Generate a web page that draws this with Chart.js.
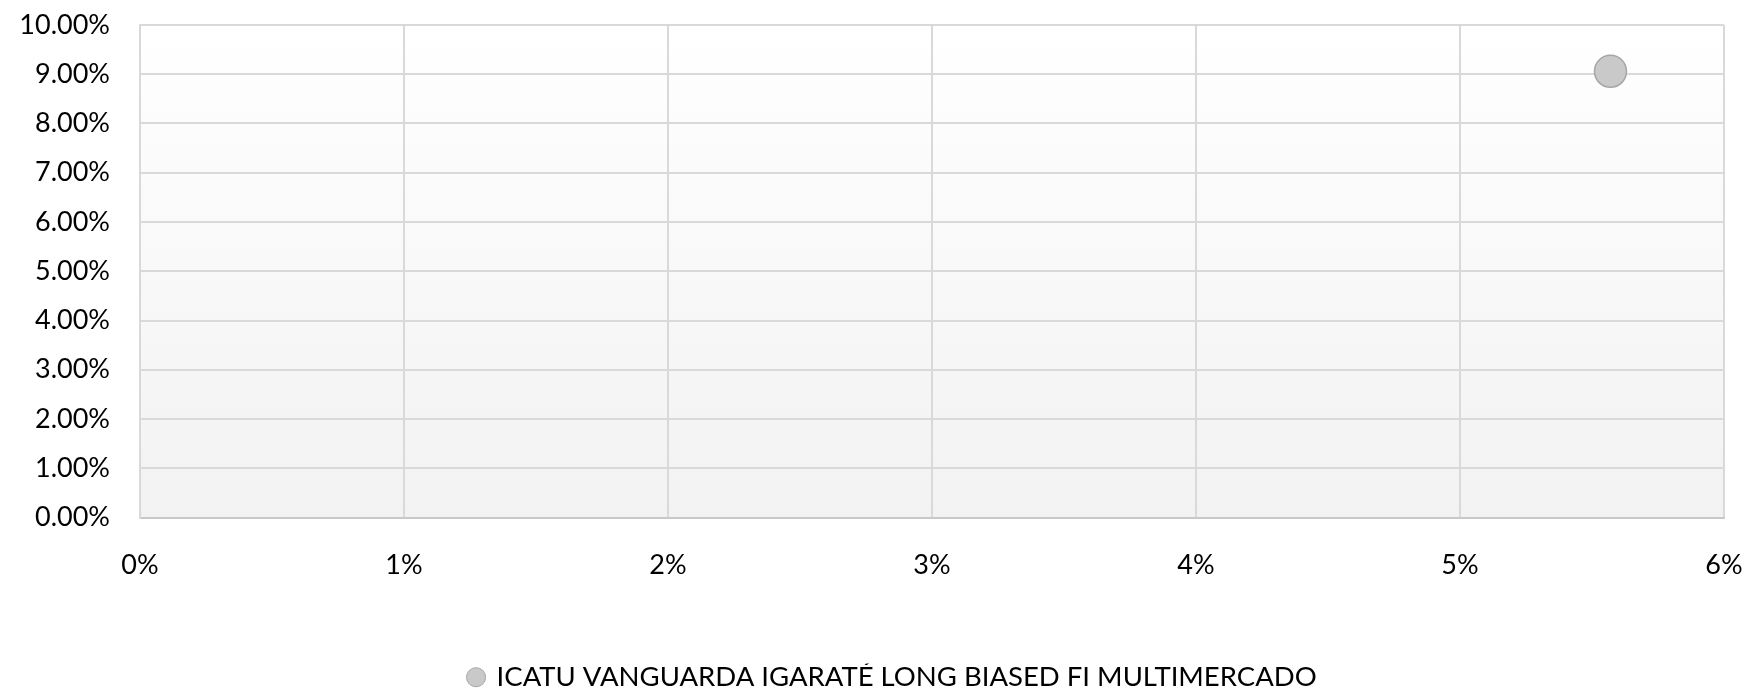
<!DOCTYPE html>
<html>
<head>
<meta charset="utf-8">
<script src="https://cdn.jsdelivr.net/npm/chart.js@4/dist/chart.umd.min.js"></script>
<style>
    html, body { margin: 0; padding: 0; background: #ffffff; }
    #wrap { width: 1753px; height: 690px; }
</style>
</head>
<body>
<div id="wrap"><canvas id="grafico"></canvas></div>
<script>
// Données du graphique (risque x retour, en %)
const seriesNames = ['ICATU VANGUARDA IGARATÉ LONG BIASED FI MULTIMERCADO'];
const riskValues = [5.57];
const returnValues = [9.06];
const xTicks = [0, 1, 2, 3, 4, 5, 6];
const yTicks = [0, 1, 2, 3, 4, 5, 6, 7, 8, 9, 10];

const fontFamily = "Lato, 'Open Sans', sans-serif";
const fontSize = 27;
const legendShift = 31;

// Fond dégradé de la zone de tracé
const plotBackground = {
    id: 'plotBackground',
    beforeDraw(chart) {
        const area = chart.chartArea;
        const ctx = chart.ctx;
        const grad = ctx.createLinearGradient(0, area.top, 0, area.bottom);
        grad.addColorStop(0, '#ffffff');
        grad.addColorStop(1, '#f2f2f2');
        ctx.save();
        ctx.fillStyle = grad;
        ctx.fillRect(area.left, area.top, area.right - area.left, area.bottom - area.top);
        ctx.restore();
    }
};

// Décale la légende un peu vers la droite
const legendOffset = {
    id: 'legendOffset',
    afterLayout(chart) {
        const legend = chart.legend;
        if (!legend || legend._shifted) return;
        const origDraw = legend.draw.bind(legend);
        legend.draw = function() {
            chart.ctx.save();
            chart.ctx.translate(legendShift, 0);
            origDraw();
            chart.ctx.restore();
        };
        legend._shifted = true;
    }
};

const ctx = document.getElementById('grafico');
new Chart(ctx, {
    type: 'scatter',
    data: {
        datasets: seriesNames.map(function(name, i) {
            return {
                label: name,
                data: [{ x: riskValues[i], y: returnValues[i] }],
                backgroundColor: '#c9c9c9',
                borderColor: '#a6a6a6',
                borderWidth: 1.5,
                pointRadius: 16,
                pointHoverRadius: 16
            };
        })
    },
    options: {
        responsive: true,
        maintainAspectRatio: false,
        animation: false,
        layout: { padding: { top: 25, right: 29, left: 0, bottom: -11 } },
        plugins: {
            tooltip: { enabled: false },
            legend: {
                position: 'bottom',
                labels: {
                    usePointStyle: true,
                    pointStyle: 'circle',
                    boxWidth: 13.5,
                    boxHeight: 13.5,
                    color: '#000000',
                    padding: 0,
                    font: { family: fontFamily, size: 27.5 },
                    generateLabels: function(chart) {
                        const items = Chart.defaults.plugins.legend.labels.generateLabels(chart);
                        items.forEach(function(it) { it.lineWidth = 1; });
                        return items;
                    }
                }
            }
        },
        scales: {
            x: {
                type: 'linear',
                min: xTicks[0],
                max: xTicks[xTicks.length - 1],
                afterBuildTicks: function(scale) {
                    scale.ticks = xTicks.map(function(v) { return { value: v }; });
                },
                afterFit: function(scale) {
                    scale.height = 146;
                    scale.paddingLeft = 0;
                    scale.paddingRight = 0;
                },
                ticks: {
                    padding: 32,
                    color: '#000000',
                    font: { family: fontFamily, size: fontSize },
                    callback: function(v) { return v + '%'; }
                },
                grid: { color: '#d9d9d9', lineWidth: 2, drawTicks: false },
                border: { color: '#c8c8c8', width: 2 }
            },
            y: {
                type: 'linear',
                min: yTicks[0],
                max: yTicks[yTicks.length - 1],
                afterBuildTicks: function(scale) {
                    scale.ticks = yTicks.map(function(v) { return { value: v }; });
                },
                afterFit: function(scale) {
                    scale.width = 140;
                    scale.paddingTop = 0;
                    scale.paddingBottom = 0;
                },
                ticks: {
                    padding: 30,
                    color: '#000000',
                    font: { family: fontFamily, size: fontSize },
                    callback: function(v) { return v.toFixed(2) + '%'; }
                },
                grid: { color: '#d9d9d9', lineWidth: 2, drawTicks: false },
                border: { color: '#d9d9d9', width: 2 }
            }
        }
    },
    plugins: [plotBackground, legendOffset]
});
</script>
</body>
</html>
